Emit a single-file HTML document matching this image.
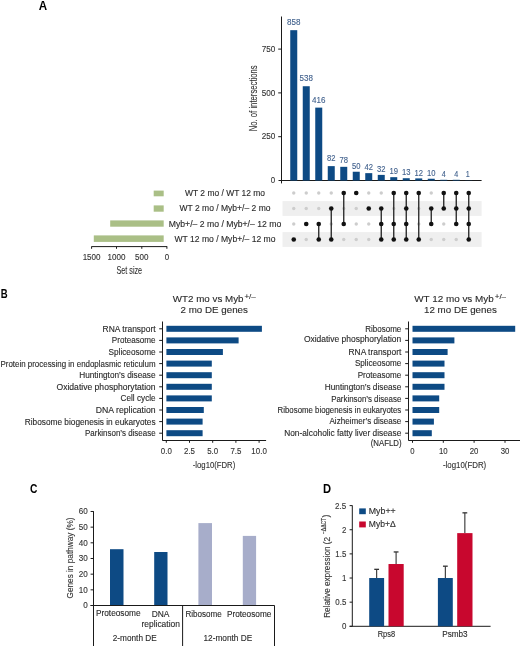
<!DOCTYPE html>
<html><head><meta charset="utf-8"><style>
html,body{margin:0;padding:0;background:#fff;}
svg{display:block;font-family:"Liberation Sans",sans-serif;will-change:transform;}
</style></head><body>
<svg width="520" height="646" viewBox="0 0 520 646">
<rect width="520" height="646" fill="#fff"/>
<text x="38.8" y="10" font-size="12" fill="#000" font-weight="bold" textLength="8.4" lengthAdjust="spacingAndGlyphs">A</text>
<line x1="281.50" y1="16.50" x2="281.50" y2="183.40" stroke="#1a1a1a" stroke-width="1"/>
<line x1="278.20" y1="49.10" x2="281.40" y2="49.10" stroke="#1a1a1a" stroke-width="1"/>
<text x="275.4" y="51.8" font-size="9" fill="#333" stroke="#333" stroke-width="0.12" text-anchor="end" textLength="13.6" lengthAdjust="spacingAndGlyphs">750</text>
<line x1="278.20" y1="92.90" x2="281.40" y2="92.90" stroke="#1a1a1a" stroke-width="1"/>
<text x="275.4" y="95.6" font-size="9" fill="#333" stroke="#333" stroke-width="0.12" text-anchor="end" textLength="13.6" lengthAdjust="spacingAndGlyphs">500</text>
<line x1="278.20" y1="136.70" x2="281.40" y2="136.70" stroke="#1a1a1a" stroke-width="1"/>
<text x="275.4" y="139.4" font-size="9" fill="#333" stroke="#333" stroke-width="0.12" text-anchor="end" textLength="13.6" lengthAdjust="spacingAndGlyphs">250</text>
<text x="275.2" y="183.2" font-size="9" fill="#333" stroke="#333" stroke-width="0.12" text-anchor="end" textLength="4.4" lengthAdjust="spacingAndGlyphs">0</text>
<line x1="278.50" y1="180.50" x2="481.60" y2="180.50" stroke="#1a1a1a" stroke-width="1"/>
<text x="256.6" y="98.3" font-size="10.0" fill="#333" stroke="#333" stroke-width="0.12" text-anchor="middle" textLength="66" lengthAdjust="spacingAndGlyphs" transform="rotate(-90 256.6 98.3)">No. of intersections</text>
<rect x="282.50" y="201.10" width="199.10" height="14.80" fill="#efefef"/>
<rect x="282.50" y="232.10" width="199.10" height="14.80" fill="#efefef"/>
<rect x="290.25" y="30.18" width="7.00" height="150.32" fill="#0d4a84"/>
<text x="293.75" y="25.0" font-size="9.0" fill="#41618d" stroke="#41618d" stroke-width="0.12" text-anchor="middle" textLength="13.4" lengthAdjust="spacingAndGlyphs">858</text>
<rect x="302.75" y="86.24" width="7.00" height="94.26" fill="#0d4a84"/>
<text x="306.25" y="80.9" font-size="9.0" fill="#41618d" stroke="#41618d" stroke-width="0.12" text-anchor="middle" textLength="13.4" lengthAdjust="spacingAndGlyphs">538</text>
<rect x="315.25" y="107.62" width="7.00" height="72.88" fill="#0d4a84"/>
<text x="318.75" y="102.8" font-size="9.0" fill="#41618d" stroke="#41618d" stroke-width="0.12" text-anchor="middle" textLength="13.4" lengthAdjust="spacingAndGlyphs">416</text>
<rect x="327.75" y="166.13" width="7.00" height="14.37" fill="#0d4a84"/>
<text x="331.25" y="160.8" font-size="9.0" fill="#41618d" stroke="#41618d" stroke-width="0.12" text-anchor="middle" textLength="8.5" lengthAdjust="spacingAndGlyphs">82</text>
<rect x="340.25" y="166.83" width="7.00" height="13.67" fill="#0d4a84"/>
<text x="343.75" y="163.2" font-size="9.0" fill="#41618d" stroke="#41618d" stroke-width="0.12" text-anchor="middle" textLength="8.5" lengthAdjust="spacingAndGlyphs">78</text>
<rect x="352.75" y="171.74" width="7.00" height="8.76" fill="#0d4a84"/>
<text x="356.25" y="168.8" font-size="9.0" fill="#41618d" stroke="#41618d" stroke-width="0.12" text-anchor="middle" textLength="8.5" lengthAdjust="spacingAndGlyphs">50</text>
<rect x="365.25" y="173.14" width="7.00" height="7.36" fill="#0d4a84"/>
<text x="368.75" y="169.9" font-size="9.0" fill="#41618d" stroke="#41618d" stroke-width="0.12" text-anchor="middle" textLength="8.5" lengthAdjust="spacingAndGlyphs">42</text>
<rect x="377.75" y="174.89" width="7.00" height="5.61" fill="#0d4a84"/>
<text x="381.25" y="172.2" font-size="9.0" fill="#41618d" stroke="#41618d" stroke-width="0.12" text-anchor="middle" textLength="8.5" lengthAdjust="spacingAndGlyphs">32</text>
<rect x="390.25" y="177.17" width="7.00" height="3.33" fill="#0d4a84"/>
<text x="393.75" y="174.2" font-size="9.0" fill="#41618d" stroke="#41618d" stroke-width="0.12" text-anchor="middle" textLength="8.5" lengthAdjust="spacingAndGlyphs">19</text>
<rect x="402.75" y="178.22" width="7.00" height="2.28" fill="#0d4a84"/>
<text x="406.25" y="175.0" font-size="9.0" fill="#41618d" stroke="#41618d" stroke-width="0.12" text-anchor="middle" textLength="8.5" lengthAdjust="spacingAndGlyphs">13</text>
<rect x="415.25" y="178.40" width="7.00" height="2.10" fill="#0d4a84"/>
<text x="418.75" y="175.8" font-size="9.0" fill="#41618d" stroke="#41618d" stroke-width="0.12" text-anchor="middle" textLength="8.5" lengthAdjust="spacingAndGlyphs">12</text>
<rect x="427.75" y="178.75" width="7.00" height="1.75" fill="#0d4a84"/>
<text x="431.25" y="175.8" font-size="9.0" fill="#41618d" stroke="#41618d" stroke-width="0.12" text-anchor="middle" textLength="8.5" lengthAdjust="spacingAndGlyphs">10</text>
<rect x="440.25" y="179.80" width="7.00" height="0.70" fill="#0d4a84"/>
<text x="443.75" y="176.8" font-size="9.0" fill="#41618d" stroke="#41618d" stroke-width="0.12" text-anchor="middle" textLength="4.0" lengthAdjust="spacingAndGlyphs">4</text>
<rect x="452.75" y="179.80" width="7.00" height="0.70" fill="#0d4a84"/>
<text x="456.25" y="176.8" font-size="9.0" fill="#41618d" stroke="#41618d" stroke-width="0.12" text-anchor="middle" textLength="4.0" lengthAdjust="spacingAndGlyphs">4</text>
<rect x="465.25" y="180.32" width="7.00" height="0.18" fill="#0d4a84"/>
<text x="467.85" y="176.6" font-size="9.0" fill="#41618d" stroke="#41618d" stroke-width="0.12" text-anchor="middle" textLength="4.0" lengthAdjust="spacingAndGlyphs">1</text>
<circle cx="293.75" cy="193.00" r="1.7" fill="#cdcdcd"/>
<circle cx="293.75" cy="208.50" r="1.7" fill="#cdcdcd"/>
<circle cx="293.75" cy="224.00" r="1.7" fill="#cdcdcd"/>
<circle cx="293.75" cy="239.50" r="2.3" fill="#111"/>
<circle cx="306.25" cy="193.00" r="1.7" fill="#cdcdcd"/>
<circle cx="306.25" cy="208.50" r="1.7" fill="#cdcdcd"/>
<circle cx="306.25" cy="239.50" r="1.7" fill="#cdcdcd"/>
<circle cx="306.25" cy="224.00" r="2.3" fill="#111"/>
<circle cx="318.75" cy="193.00" r="1.7" fill="#cdcdcd"/>
<circle cx="318.75" cy="208.50" r="1.7" fill="#cdcdcd"/>
<line x1="318.75" y1="224.00" x2="318.75" y2="239.50" stroke="#222" stroke-width="1.3"/>
<circle cx="318.75" cy="224.00" r="2.3" fill="#111"/>
<circle cx="318.75" cy="239.50" r="2.3" fill="#111"/>
<circle cx="331.25" cy="193.00" r="1.7" fill="#cdcdcd"/>
<circle cx="331.25" cy="224.00" r="1.7" fill="#cdcdcd"/>
<line x1="331.25" y1="208.50" x2="331.25" y2="239.50" stroke="#222" stroke-width="1.3"/>
<circle cx="331.25" cy="208.50" r="2.3" fill="#111"/>
<circle cx="331.25" cy="239.50" r="2.3" fill="#111"/>
<circle cx="343.75" cy="208.50" r="1.7" fill="#cdcdcd"/>
<circle cx="343.75" cy="239.50" r="1.7" fill="#cdcdcd"/>
<line x1="343.75" y1="193.00" x2="343.75" y2="224.00" stroke="#222" stroke-width="1.3"/>
<circle cx="343.75" cy="193.00" r="2.3" fill="#111"/>
<circle cx="343.75" cy="224.00" r="2.3" fill="#111"/>
<circle cx="356.25" cy="208.50" r="1.7" fill="#cdcdcd"/>
<circle cx="356.25" cy="224.00" r="1.7" fill="#cdcdcd"/>
<circle cx="356.25" cy="239.50" r="1.7" fill="#cdcdcd"/>
<circle cx="356.25" cy="193.00" r="2.3" fill="#111"/>
<circle cx="368.75" cy="193.00" r="1.7" fill="#cdcdcd"/>
<circle cx="368.75" cy="224.00" r="1.7" fill="#cdcdcd"/>
<circle cx="368.75" cy="239.50" r="1.7" fill="#cdcdcd"/>
<circle cx="368.75" cy="208.50" r="2.3" fill="#111"/>
<circle cx="381.25" cy="193.00" r="1.7" fill="#cdcdcd"/>
<line x1="381.25" y1="208.50" x2="381.25" y2="239.50" stroke="#222" stroke-width="1.3"/>
<circle cx="381.25" cy="208.50" r="2.3" fill="#111"/>
<circle cx="381.25" cy="224.00" r="2.3" fill="#111"/>
<circle cx="381.25" cy="239.50" r="2.3" fill="#111"/>
<circle cx="393.75" cy="208.50" r="1.7" fill="#cdcdcd"/>
<line x1="393.75" y1="193.00" x2="393.75" y2="239.50" stroke="#222" stroke-width="1.3"/>
<circle cx="393.75" cy="193.00" r="2.3" fill="#111"/>
<circle cx="393.75" cy="224.00" r="2.3" fill="#111"/>
<circle cx="393.75" cy="239.50" r="2.3" fill="#111"/>
<line x1="406.25" y1="193.00" x2="406.25" y2="239.50" stroke="#222" stroke-width="1.3"/>
<circle cx="406.25" cy="193.00" r="2.3" fill="#111"/>
<circle cx="406.25" cy="208.50" r="2.3" fill="#111"/>
<circle cx="406.25" cy="224.00" r="2.3" fill="#111"/>
<circle cx="406.25" cy="239.50" r="2.3" fill="#111"/>
<circle cx="418.75" cy="208.50" r="1.7" fill="#cdcdcd"/>
<circle cx="418.75" cy="224.00" r="1.7" fill="#cdcdcd"/>
<line x1="418.75" y1="193.00" x2="418.75" y2="239.50" stroke="#222" stroke-width="1.3"/>
<circle cx="418.75" cy="193.00" r="2.3" fill="#111"/>
<circle cx="418.75" cy="239.50" r="2.3" fill="#111"/>
<circle cx="431.25" cy="193.00" r="1.7" fill="#cdcdcd"/>
<circle cx="431.25" cy="239.50" r="1.7" fill="#cdcdcd"/>
<line x1="431.25" y1="208.50" x2="431.25" y2="224.00" stroke="#222" stroke-width="1.3"/>
<circle cx="431.25" cy="208.50" r="2.3" fill="#111"/>
<circle cx="431.25" cy="224.00" r="2.3" fill="#111"/>
<circle cx="443.75" cy="224.00" r="1.7" fill="#cdcdcd"/>
<circle cx="443.75" cy="239.50" r="1.7" fill="#cdcdcd"/>
<line x1="443.75" y1="193.00" x2="443.75" y2="208.50" stroke="#222" stroke-width="1.3"/>
<circle cx="443.75" cy="193.00" r="2.3" fill="#111"/>
<circle cx="443.75" cy="208.50" r="2.3" fill="#111"/>
<circle cx="456.25" cy="239.50" r="1.7" fill="#cdcdcd"/>
<line x1="456.25" y1="193.00" x2="456.25" y2="224.00" stroke="#222" stroke-width="1.3"/>
<circle cx="456.25" cy="193.00" r="2.3" fill="#111"/>
<circle cx="456.25" cy="208.50" r="2.3" fill="#111"/>
<circle cx="456.25" cy="224.00" r="2.3" fill="#111"/>
<line x1="468.75" y1="193.00" x2="468.75" y2="239.50" stroke="#222" stroke-width="1.3"/>
<circle cx="468.75" cy="193.00" r="2.3" fill="#111"/>
<circle cx="468.75" cy="208.50" r="2.3" fill="#111"/>
<circle cx="468.75" cy="224.00" r="2.3" fill="#111"/>
<circle cx="468.75" cy="239.50" r="2.3" fill="#111"/>
<text x="225" y="195.6" font-size="8.2" fill="#2a2a2a" stroke="#2a2a2a" stroke-width="0.12" text-anchor="middle" textLength="80" lengthAdjust="spacingAndGlyphs">WT 2 mo / WT 12 mo</text>
<text x="225" y="211.1" font-size="8.2" fill="#2a2a2a" stroke="#2a2a2a" stroke-width="0.12" text-anchor="middle" textLength="91" lengthAdjust="spacingAndGlyphs">WT 2 mo / Myb+/&#8211; 2 mo</text>
<text x="225" y="226.6" font-size="8.2" fill="#2a2a2a" stroke="#2a2a2a" stroke-width="0.12" text-anchor="middle" textLength="112.5" lengthAdjust="spacingAndGlyphs">Myb+/&#8211; 2 mo / Myb+/&#8211; 12 mo</text>
<text x="225" y="242.1" font-size="8.2" fill="#2a2a2a" stroke="#2a2a2a" stroke-width="0.12" text-anchor="middle" textLength="101" lengthAdjust="spacingAndGlyphs">WT 12 mo / Myb+/&#8211; 12 mo</text>
<rect x="153.70" y="190.60" width="10.00" height="5.70" fill="#aabf86"/>
<rect x="153.70" y="205.40" width="10.00" height="6.30" fill="#aabf86"/>
<rect x="110.20" y="220.40" width="53.50" height="6.30" fill="#aabf86"/>
<rect x="93.80" y="235.40" width="69.90" height="6.50" fill="#aabf86"/>
<line x1="91.40" y1="246.60" x2="167.20" y2="246.60" stroke="#1a1a1a" stroke-width="1"/>
<line x1="91.60" y1="246.60" x2="91.60" y2="248.80" stroke="#1a1a1a" stroke-width="1"/>
<text x="91.6" y="259.5" font-size="9" fill="#333" stroke="#333" stroke-width="0.12" text-anchor="middle" textLength="17.9" lengthAdjust="spacingAndGlyphs">1500</text>
<line x1="116.50" y1="246.60" x2="116.50" y2="248.80" stroke="#1a1a1a" stroke-width="1"/>
<text x="116.5" y="259.5" font-size="9" fill="#333" stroke="#333" stroke-width="0.12" text-anchor="middle" textLength="17.9" lengthAdjust="spacingAndGlyphs">1000</text>
<line x1="141.80" y1="246.60" x2="141.80" y2="248.80" stroke="#1a1a1a" stroke-width="1"/>
<text x="141.8" y="259.5" font-size="9" fill="#333" stroke="#333" stroke-width="0.12" text-anchor="middle" textLength="13.4" lengthAdjust="spacingAndGlyphs">500</text>
<line x1="166.90" y1="246.60" x2="166.90" y2="248.80" stroke="#1a1a1a" stroke-width="1"/>
<text x="166.9" y="259.5" font-size="9" fill="#333" stroke="#333" stroke-width="0.12" text-anchor="middle" textLength="4.4" lengthAdjust="spacingAndGlyphs">0</text>
<text x="129.3" y="273.6" font-size="10.6" fill="#333" stroke="#333" stroke-width="0.12" text-anchor="middle" textLength="25.6" lengthAdjust="spacingAndGlyphs">Set size</text>
<text x="0.8" y="298.1" font-size="12" fill="#000" font-weight="bold" textLength="6.9" lengthAdjust="spacingAndGlyphs">B</text>
<text x="172.8" y="301.6" font-size="9.85" fill="#2a2a2a" stroke="#2a2a2a" stroke-width="0.12" textLength="70.7" lengthAdjust="spacingAndGlyphs">WT2 mo vs Myb</text>
<text x="244.4" y="298.9" font-size="7.8" fill="#2a2a2a" stroke="#2a2a2a" stroke-width="0.12" textLength="11.4" lengthAdjust="spacingAndGlyphs">+/&#8211;</text>
<text x="180.5" y="313.4" font-size="9.85" fill="#2a2a2a" stroke="#2a2a2a" stroke-width="0.12" textLength="67.4" lengthAdjust="spacingAndGlyphs">2 mo DE genes</text>
<line x1="162.50" y1="321.50" x2="162.50" y2="440.60" stroke="#1a1a1a" stroke-width="1"/>
<rect x="166.40" y="325.80" width="95.50" height="6.00" fill="#0d4a84"/>
<line x1="159.20" y1="328.80" x2="162.50" y2="328.80" stroke="#1a1a1a" stroke-width="1"/>
<rect x="166.40" y="337.40" width="72.20" height="6.00" fill="#0d4a84"/>
<line x1="159.20" y1="340.40" x2="162.50" y2="340.40" stroke="#1a1a1a" stroke-width="1"/>
<rect x="166.40" y="349.00" width="56.50" height="6.00" fill="#0d4a84"/>
<line x1="159.20" y1="352.00" x2="162.50" y2="352.00" stroke="#1a1a1a" stroke-width="1"/>
<rect x="166.40" y="360.60" width="45.40" height="6.00" fill="#0d4a84"/>
<line x1="159.20" y1="363.60" x2="162.50" y2="363.60" stroke="#1a1a1a" stroke-width="1"/>
<rect x="166.40" y="372.20" width="45.40" height="6.00" fill="#0d4a84"/>
<line x1="159.20" y1="375.20" x2="162.50" y2="375.20" stroke="#1a1a1a" stroke-width="1"/>
<rect x="166.40" y="383.80" width="45.40" height="6.00" fill="#0d4a84"/>
<line x1="159.20" y1="386.80" x2="162.50" y2="386.80" stroke="#1a1a1a" stroke-width="1"/>
<rect x="166.40" y="395.40" width="45.40" height="6.00" fill="#0d4a84"/>
<line x1="159.20" y1="398.40" x2="162.50" y2="398.40" stroke="#1a1a1a" stroke-width="1"/>
<rect x="166.40" y="407.00" width="37.40" height="6.00" fill="#0d4a84"/>
<line x1="159.20" y1="410.00" x2="162.50" y2="410.00" stroke="#1a1a1a" stroke-width="1"/>
<rect x="166.40" y="418.60" width="36.20" height="6.00" fill="#0d4a84"/>
<line x1="159.20" y1="421.60" x2="162.50" y2="421.60" stroke="#1a1a1a" stroke-width="1"/>
<rect x="166.40" y="430.20" width="36.20" height="6.00" fill="#0d4a84"/>
<line x1="159.20" y1="433.20" x2="162.50" y2="433.20" stroke="#1a1a1a" stroke-width="1"/>
<line x1="162.50" y1="440.50" x2="266.10" y2="440.50" stroke="#1a1a1a" stroke-width="1"/>
<line x1="166.30" y1="440.50" x2="166.30" y2="442.80" stroke="#1a1a1a" stroke-width="1"/>
<text x="166.3" y="453.7" font-size="9.6" fill="#333" stroke="#333" stroke-width="0.12" text-anchor="middle" textLength="11" lengthAdjust="spacingAndGlyphs">0.0</text>
<line x1="189.50" y1="440.50" x2="189.50" y2="442.80" stroke="#1a1a1a" stroke-width="1"/>
<text x="189.5" y="453.7" font-size="9.6" fill="#333" stroke="#333" stroke-width="0.12" text-anchor="middle" textLength="11" lengthAdjust="spacingAndGlyphs">2.5</text>
<line x1="212.70" y1="440.50" x2="212.70" y2="442.80" stroke="#1a1a1a" stroke-width="1"/>
<text x="212.7" y="453.7" font-size="9.6" fill="#333" stroke="#333" stroke-width="0.12" text-anchor="middle" textLength="11" lengthAdjust="spacingAndGlyphs">5.0</text>
<line x1="235.90" y1="440.50" x2="235.90" y2="442.80" stroke="#1a1a1a" stroke-width="1"/>
<text x="235.9" y="453.7" font-size="9.6" fill="#333" stroke="#333" stroke-width="0.12" text-anchor="middle" textLength="11" lengthAdjust="spacingAndGlyphs">7.5</text>
<line x1="259.10" y1="440.50" x2="259.10" y2="442.80" stroke="#1a1a1a" stroke-width="1"/>
<text x="259.1" y="453.7" font-size="9.6" fill="#333" stroke="#333" stroke-width="0.12" text-anchor="middle" textLength="15.5" lengthAdjust="spacingAndGlyphs">10.0</text>
<text x="214" y="467.6" font-size="8.8" fill="#333" stroke="#333" stroke-width="0.12" text-anchor="middle" textLength="42.5" lengthAdjust="spacingAndGlyphs">-log10(FDR)</text>
<text x="414.2" y="301.6" font-size="9.85" fill="#2a2a2a" stroke="#2a2a2a" stroke-width="0.12" textLength="79.6" lengthAdjust="spacingAndGlyphs">WT 12 mo vs Myb</text>
<text x="494.7" y="298.9" font-size="7.8" fill="#2a2a2a" stroke="#2a2a2a" stroke-width="0.12" textLength="11.4" lengthAdjust="spacingAndGlyphs">+/&#8211;</text>
<text x="424.0" y="313.4" font-size="9.85" fill="#2a2a2a" stroke="#2a2a2a" stroke-width="0.12" textLength="72.8" lengthAdjust="spacingAndGlyphs">12 mo DE genes</text>
<line x1="408.50" y1="321.50" x2="408.50" y2="440.60" stroke="#1a1a1a" stroke-width="1"/>
<rect x="412.50" y="325.80" width="102.70" height="6.00" fill="#0d4a84"/>
<line x1="405.20" y1="328.80" x2="408.50" y2="328.80" stroke="#1a1a1a" stroke-width="1"/>
<rect x="412.50" y="337.40" width="41.90" height="6.00" fill="#0d4a84"/>
<line x1="405.20" y1="340.40" x2="408.50" y2="340.40" stroke="#1a1a1a" stroke-width="1"/>
<rect x="412.50" y="349.00" width="35.10" height="6.00" fill="#0d4a84"/>
<line x1="405.20" y1="352.00" x2="408.50" y2="352.00" stroke="#1a1a1a" stroke-width="1"/>
<rect x="412.50" y="360.60" width="32.00" height="6.00" fill="#0d4a84"/>
<line x1="405.20" y1="363.60" x2="408.50" y2="363.60" stroke="#1a1a1a" stroke-width="1"/>
<rect x="412.50" y="372.20" width="32.00" height="6.00" fill="#0d4a84"/>
<line x1="405.20" y1="375.20" x2="408.50" y2="375.20" stroke="#1a1a1a" stroke-width="1"/>
<rect x="412.50" y="383.80" width="32.00" height="6.00" fill="#0d4a84"/>
<line x1="405.20" y1="386.80" x2="408.50" y2="386.80" stroke="#1a1a1a" stroke-width="1"/>
<rect x="412.50" y="395.40" width="26.70" height="6.00" fill="#0d4a84"/>
<line x1="405.20" y1="398.40" x2="408.50" y2="398.40" stroke="#1a1a1a" stroke-width="1"/>
<rect x="412.50" y="407.00" width="26.70" height="6.00" fill="#0d4a84"/>
<line x1="405.20" y1="410.00" x2="408.50" y2="410.00" stroke="#1a1a1a" stroke-width="1"/>
<rect x="412.50" y="418.60" width="21.40" height="6.00" fill="#0d4a84"/>
<line x1="405.20" y1="421.60" x2="408.50" y2="421.60" stroke="#1a1a1a" stroke-width="1"/>
<rect x="412.50" y="430.20" width="19.30" height="6.00" fill="#0d4a84"/>
<line x1="405.20" y1="433.20" x2="408.50" y2="433.20" stroke="#1a1a1a" stroke-width="1"/>
<line x1="408.50" y1="440.50" x2="520.00" y2="440.50" stroke="#1a1a1a" stroke-width="1"/>
<line x1="412.50" y1="440.50" x2="412.50" y2="442.80" stroke="#1a1a1a" stroke-width="1"/>
<text x="412.5" y="453.7" font-size="9.6" fill="#333" stroke="#333" stroke-width="0.12" text-anchor="middle" textLength="4.3" lengthAdjust="spacingAndGlyphs">0</text>
<line x1="443.30" y1="440.50" x2="443.30" y2="442.80" stroke="#1a1a1a" stroke-width="1"/>
<text x="443.3" y="453.7" font-size="9.6" fill="#333" stroke="#333" stroke-width="0.12" text-anchor="middle" textLength="8.7" lengthAdjust="spacingAndGlyphs">10</text>
<line x1="474.10" y1="440.50" x2="474.10" y2="442.80" stroke="#1a1a1a" stroke-width="1"/>
<text x="474.1" y="453.7" font-size="9.6" fill="#333" stroke="#333" stroke-width="0.12" text-anchor="middle" textLength="8.7" lengthAdjust="spacingAndGlyphs">20</text>
<line x1="505.00" y1="440.50" x2="505.00" y2="442.80" stroke="#1a1a1a" stroke-width="1"/>
<text x="505" y="453.7" font-size="9.6" fill="#333" stroke="#333" stroke-width="0.12" text-anchor="middle" textLength="8.7" lengthAdjust="spacingAndGlyphs">30</text>
<text x="464.6" y="467.6" font-size="8.8" fill="#333" stroke="#333" stroke-width="0.12" text-anchor="middle" textLength="43.3" lengthAdjust="spacingAndGlyphs">-log10(FDR)</text>
<text x="102.6" y="331.7" font-size="8.2" fill="#2a2a2a" stroke="#2a2a2a" stroke-width="0.12" textLength="53.0" lengthAdjust="spacingAndGlyphs">RNA transport</text>
<text x="111.8" y="343.3" font-size="8.2" fill="#2a2a2a" stroke="#2a2a2a" stroke-width="0.12" textLength="43.8" lengthAdjust="spacingAndGlyphs">Proteasome</text>
<text x="108.5" y="354.9" font-size="8.2" fill="#2a2a2a" stroke="#2a2a2a" stroke-width="0.12" textLength="47.1" lengthAdjust="spacingAndGlyphs">Spliceosome</text>
<text x="0.5" y="366.5" font-size="8.2" fill="#2a2a2a" stroke="#2a2a2a" stroke-width="0.12" textLength="155.1" lengthAdjust="spacingAndGlyphs">Protein processing in endoplasmic reticulum</text>
<text x="79.2" y="378.1" font-size="8.2" fill="#2a2a2a" stroke="#2a2a2a" stroke-width="0.12" textLength="76.4" lengthAdjust="spacingAndGlyphs">Huntington&#8217;s disease</text>
<text x="56.5" y="389.7" font-size="8.2" fill="#2a2a2a" stroke="#2a2a2a" stroke-width="0.12" textLength="99.1" lengthAdjust="spacingAndGlyphs">Oxidative phosphorytation</text>
<text x="120.6" y="401.3" font-size="8.2" fill="#2a2a2a" stroke="#2a2a2a" stroke-width="0.12" textLength="35.0" lengthAdjust="spacingAndGlyphs">Cell cycle</text>
<text x="95.8" y="412.9" font-size="8.2" fill="#2a2a2a" stroke="#2a2a2a" stroke-width="0.12" textLength="59.8" lengthAdjust="spacingAndGlyphs">DNA replication</text>
<text x="24.7" y="424.5" font-size="8.2" fill="#2a2a2a" stroke="#2a2a2a" stroke-width="0.12" textLength="130.9" lengthAdjust="spacingAndGlyphs">Ribosome biogenesis in eukaryotes</text>
<text x="85.0" y="436.1" font-size="8.2" fill="#2a2a2a" stroke="#2a2a2a" stroke-width="0.12" textLength="70.6" lengthAdjust="spacingAndGlyphs">Parkinson&#8217;s disease</text>
<text x="365.3" y="331.7" font-size="8.2" fill="#2a2a2a" stroke="#2a2a2a" stroke-width="0.12" textLength="36.0" lengthAdjust="spacingAndGlyphs">Ribosome</text>
<text x="303.9" y="342.3" font-size="8.2" fill="#2a2a2a" stroke="#2a2a2a" stroke-width="0.12" textLength="97.4" lengthAdjust="spacingAndGlyphs">Oxidative phosphorylation</text>
<text x="348.5" y="355.0" font-size="8.2" fill="#2a2a2a" stroke="#2a2a2a" stroke-width="0.12" textLength="52.8" lengthAdjust="spacingAndGlyphs">RNA transport</text>
<text x="354.9" y="366.4" font-size="8.2" fill="#2a2a2a" stroke="#2a2a2a" stroke-width="0.12" textLength="46.4" lengthAdjust="spacingAndGlyphs">Spliceosome</text>
<text x="357.7" y="378.0" font-size="8.2" fill="#2a2a2a" stroke="#2a2a2a" stroke-width="0.12" textLength="43.6" lengthAdjust="spacingAndGlyphs">Proteasome</text>
<text x="324.8" y="389.7" font-size="8.2" fill="#2a2a2a" stroke="#2a2a2a" stroke-width="0.12" textLength="76.5" lengthAdjust="spacingAndGlyphs">Huntington&#8217;s disease</text>
<text x="331.2" y="401.7" font-size="8.2" fill="#2a2a2a" stroke="#2a2a2a" stroke-width="0.12" textLength="70.1" lengthAdjust="spacingAndGlyphs">Parkinson&#8217;s disease</text>
<text x="277.6" y="413.0" font-size="8.2" fill="#2a2a2a" stroke="#2a2a2a" stroke-width="0.12" textLength="123.7" lengthAdjust="spacingAndGlyphs">Ribosome biogenesis in eukaryotes</text>
<text x="329.5" y="424.4" font-size="8.2" fill="#2a2a2a" stroke="#2a2a2a" stroke-width="0.12" textLength="71.8" lengthAdjust="spacingAndGlyphs">Aizheimer&#8217;s disease</text>
<text x="284.2" y="435.9" font-size="8.2" fill="#2a2a2a" stroke="#2a2a2a" stroke-width="0.12" textLength="117.1" lengthAdjust="spacingAndGlyphs">Non-alcoholic fatty liver disease</text>
<text x="370.7" y="445.9" font-size="8.2" fill="#2a2a2a" stroke="#2a2a2a" stroke-width="0.12" textLength="30.8" lengthAdjust="spacingAndGlyphs">(NAFLD)</text>
<text x="30.0" y="492.7" font-size="12" fill="#000" font-weight="bold" textLength="7.4" lengthAdjust="spacingAndGlyphs">C</text>
<line x1="93.50" y1="511.20" x2="93.50" y2="646.00" stroke="#1a1a1a" stroke-width="1"/>
<line x1="90.60" y1="605.50" x2="93.50" y2="605.50" stroke="#1a1a1a" stroke-width="1"/>
<text x="87.8" y="608.4" font-size="9" fill="#333" stroke="#333" stroke-width="0.12" text-anchor="end" textLength="4.5" lengthAdjust="spacingAndGlyphs">0</text>
<line x1="90.60" y1="589.83" x2="93.50" y2="589.83" stroke="#1a1a1a" stroke-width="1"/>
<text x="87.8" y="592.73" font-size="9" fill="#333" stroke="#333" stroke-width="0.12" text-anchor="end" textLength="9.0" lengthAdjust="spacingAndGlyphs">10</text>
<line x1="90.60" y1="574.16" x2="93.50" y2="574.16" stroke="#1a1a1a" stroke-width="1"/>
<text x="87.8" y="577.06" font-size="9" fill="#333" stroke="#333" stroke-width="0.12" text-anchor="end" textLength="9.0" lengthAdjust="spacingAndGlyphs">20</text>
<line x1="90.60" y1="558.49" x2="93.50" y2="558.49" stroke="#1a1a1a" stroke-width="1"/>
<text x="87.8" y="561.39" font-size="9" fill="#333" stroke="#333" stroke-width="0.12" text-anchor="end" textLength="9.0" lengthAdjust="spacingAndGlyphs">30</text>
<line x1="90.60" y1="542.82" x2="93.50" y2="542.82" stroke="#1a1a1a" stroke-width="1"/>
<text x="87.8" y="545.72" font-size="9" fill="#333" stroke="#333" stroke-width="0.12" text-anchor="end" textLength="9.0" lengthAdjust="spacingAndGlyphs">40</text>
<line x1="90.60" y1="527.15" x2="93.50" y2="527.15" stroke="#1a1a1a" stroke-width="1"/>
<text x="87.8" y="530.05" font-size="9" fill="#333" stroke="#333" stroke-width="0.12" text-anchor="end" textLength="9.0" lengthAdjust="spacingAndGlyphs">50</text>
<line x1="90.60" y1="511.48" x2="93.50" y2="511.48" stroke="#1a1a1a" stroke-width="1"/>
<text x="87.8" y="514.38" font-size="9" fill="#333" stroke="#333" stroke-width="0.12" text-anchor="end" textLength="9.0" lengthAdjust="spacingAndGlyphs">60</text>
<text x="73.4" y="558.0" font-size="9.6" fill="#333" stroke="#333" stroke-width="0.12" text-anchor="middle" textLength="81" lengthAdjust="spacingAndGlyphs" transform="rotate(-90 73.4 558.0)">Genes in pathway (%)</text>
<rect x="110.00" y="549.20" width="13.50" height="56.30" fill="#0d4a84"/>
<rect x="154.20" y="552.00" width="13.30" height="53.50" fill="#0d4a84"/>
<rect x="198.40" y="523.10" width="13.60" height="82.40" fill="#a7adca"/>
<rect x="242.80" y="535.90" width="13.30" height="69.60" fill="#a7adca"/>
<line x1="90.60" y1="605.50" x2="274.60" y2="605.50" stroke="#1a1a1a" stroke-width="1"/>
<line x1="182.60" y1="605.50" x2="182.60" y2="646.00" stroke="#1a1a1a" stroke-width="1"/>
<line x1="274.50" y1="605.50" x2="274.50" y2="646.00" stroke="#1a1a1a" stroke-width="1"/>
<text x="96.0" y="615.5" font-size="8.4" fill="#2a2a2a" stroke="#2a2a2a" stroke-width="0.12" textLength="44.6" lengthAdjust="spacingAndGlyphs">Proteosome</text>
<text x="151.7" y="616.6" font-size="8.4" fill="#2a2a2a" stroke="#2a2a2a" stroke-width="0.12" textLength="17.8" lengthAdjust="spacingAndGlyphs">DNA</text>
<text x="141.5" y="626.5" font-size="8.4" fill="#2a2a2a" stroke="#2a2a2a" stroke-width="0.12" textLength="38.4" lengthAdjust="spacingAndGlyphs">replication</text>
<text x="185.5" y="616.8" font-size="8.4" fill="#2a2a2a" stroke="#2a2a2a" stroke-width="0.12" textLength="36.3" lengthAdjust="spacingAndGlyphs">Ribosome</text>
<text x="226.9" y="616.8" font-size="8.4" fill="#2a2a2a" stroke="#2a2a2a" stroke-width="0.12" textLength="44.5" lengthAdjust="spacingAndGlyphs">Proteosome</text>
<text x="112.8" y="641.1" font-size="8.4" fill="#2a2a2a" stroke="#2a2a2a" stroke-width="0.12" textLength="43.9" lengthAdjust="spacingAndGlyphs">2-month DE</text>
<text x="203.5" y="641.1" font-size="8.4" fill="#2a2a2a" stroke="#2a2a2a" stroke-width="0.12" textLength="48.7" lengthAdjust="spacingAndGlyphs">12-month DE</text>
<text x="323.1" y="492.7" font-size="12" fill="#000" font-weight="bold" textLength="8.1" lengthAdjust="spacingAndGlyphs">D</text>
<line x1="352.30" y1="505.40" x2="352.30" y2="626.30" stroke="#1a1a1a" stroke-width="1"/>
<line x1="349.60" y1="626.30" x2="352.30" y2="626.30" stroke="#1a1a1a" stroke-width="1"/>
<text x="346.3" y="629.3" font-size="9" fill="#333" stroke="#333" stroke-width="0.12" text-anchor="end" textLength="4.4" lengthAdjust="spacingAndGlyphs">0</text>
<line x1="349.60" y1="602.16" x2="352.30" y2="602.16" stroke="#1a1a1a" stroke-width="1"/>
<text x="346.3" y="605.16" font-size="9" fill="#333" stroke="#333" stroke-width="0.12" text-anchor="end" textLength="11" lengthAdjust="spacingAndGlyphs">0.5</text>
<line x1="349.60" y1="578.02" x2="352.30" y2="578.02" stroke="#1a1a1a" stroke-width="1"/>
<text x="346.3" y="581.02" font-size="9" fill="#333" stroke="#333" stroke-width="0.12" text-anchor="end" textLength="4.4" lengthAdjust="spacingAndGlyphs">1</text>
<line x1="349.60" y1="553.88" x2="352.30" y2="553.88" stroke="#1a1a1a" stroke-width="1"/>
<text x="346.3" y="556.88" font-size="9" fill="#333" stroke="#333" stroke-width="0.12" text-anchor="end" textLength="11" lengthAdjust="spacingAndGlyphs">1.5</text>
<line x1="349.60" y1="529.74" x2="352.30" y2="529.74" stroke="#1a1a1a" stroke-width="1"/>
<text x="346.3" y="532.74" font-size="9" fill="#333" stroke="#333" stroke-width="0.12" text-anchor="end" textLength="4.4" lengthAdjust="spacingAndGlyphs">2</text>
<line x1="349.60" y1="505.60" x2="352.30" y2="505.60" stroke="#1a1a1a" stroke-width="1"/>
<text x="346.3" y="508.6" font-size="9" fill="#333" stroke="#333" stroke-width="0.12" text-anchor="end" textLength="11.2" lengthAdjust="spacingAndGlyphs">2.5</text>
<line x1="349.60" y1="626.30" x2="490.60" y2="626.30" stroke="#1a1a1a" stroke-width="1"/>
<rect x="359.20" y="508.40" width="6.60" height="5.80" fill="#0d4a84"/>
<rect x="359.20" y="521.50" width="6.60" height="5.90" fill="#c8072e"/>
<text x="368.8" y="514.0" font-size="8.8" fill="#2a2a2a" stroke="#2a2a2a" stroke-width="0.12" textLength="26.9" lengthAdjust="spacingAndGlyphs">Myb++</text>
<text x="368.8" y="527.4" font-size="8.8" fill="#2a2a2a" stroke="#2a2a2a" stroke-width="0.12" textLength="26.9" lengthAdjust="spacingAndGlyphs">Myb+&#916;</text>
<line x1="376.65" y1="569.33" x2="376.65" y2="578.02" stroke="#333" stroke-width="1.1"/>
<line x1="374.25" y1="569.33" x2="379.05" y2="569.33" stroke="#333" stroke-width="1.3"/>
<rect x="369.20" y="578.02" width="14.90" height="48.28" fill="#0d4a84"/>
<line x1="396.10" y1="551.95" x2="396.10" y2="564.02" stroke="#333" stroke-width="1.1"/>
<line x1="393.70" y1="551.95" x2="398.50" y2="551.95" stroke="#333" stroke-width="1.3"/>
<rect x="388.50" y="564.02" width="15.20" height="62.28" fill="#c8072e"/>
<line x1="445.35" y1="566.19" x2="445.35" y2="578.02" stroke="#333" stroke-width="1.1"/>
<line x1="442.95" y1="566.19" x2="447.75" y2="566.19" stroke="#333" stroke-width="1.3"/>
<rect x="437.90" y="578.02" width="14.90" height="48.28" fill="#0d4a84"/>
<line x1="464.85" y1="512.84" x2="464.85" y2="533.12" stroke="#333" stroke-width="1.1"/>
<line x1="462.45" y1="512.84" x2="467.25" y2="512.84" stroke="#333" stroke-width="1.3"/>
<rect x="457.20" y="533.12" width="15.30" height="93.18" fill="#c8072e"/>
<text x="386.4" y="637.4" font-size="8.8" fill="#2a2a2a" stroke="#2a2a2a" stroke-width="0.12" text-anchor="middle" textLength="17.3" lengthAdjust="spacingAndGlyphs">Rps8</text>
<text x="454.9" y="637.4" font-size="8.8" fill="#2a2a2a" stroke="#2a2a2a" stroke-width="0.12" text-anchor="middle" textLength="25.4" lengthAdjust="spacingAndGlyphs">Psmb3</text>
<text x="329.6" y="617.8" font-size="9.0" fill="#333" stroke="#333" stroke-width="0.12" textLength="80.8" lengthAdjust="spacingAndGlyphs" transform="rotate(-90 329.6 617.8)">Relative expression (2</text>
<text x="325.6" y="534.0" font-size="6.8" fill="#333" stroke="#333" stroke-width="0.12" textLength="16.0" lengthAdjust="spacingAndGlyphs" transform="rotate(-90 325.6 534.0)">&#8722;&#916;&#916;CT</text>
<text x="329.4" y="517.4" font-size="9.0" fill="#333" stroke="#333" stroke-width="0.12" textLength="2.8" lengthAdjust="spacingAndGlyphs" transform="rotate(-90 329.4 517.4)">)</text>
</svg>
</body></html>
